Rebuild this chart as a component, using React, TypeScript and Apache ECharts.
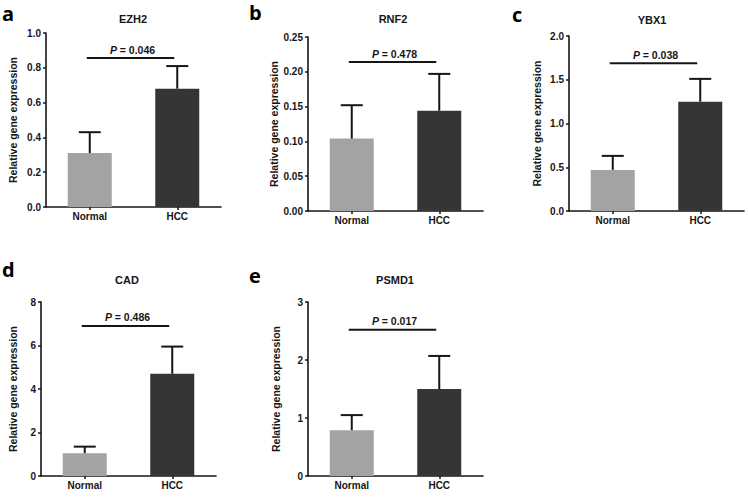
import React, { useEffect, useRef } from "react";
import * as echarts from "echarts";

const panelLetters = ["a", "b", "c", "d", "e"];
const genes = ["EZH2", "RNF2", "YBX1", "CAD", "PSMD1"];
const categories = ["Normal", "HCC"];
const normalMeans = [0.31, 0.104, 0.47, 1.05, 0.79];
const normalErrTop = [0.43, 0.152, 0.63, 1.35, 1.05];
const hccMeans = [0.68, 0.144, 1.25, 4.7, 1.5];
const hccErrTop = [0.81, 0.197, 1.51, 5.95, 2.07];
const pValues = ["0.046", "0.478", "0.038", "0.486", "0.017"];
const pLineY = [0.856, 0.214, 1.69, 6.9, 2.52];
const yMax = [1.0, 0.25, 2.0, 8, 3];
const yInterval = [0.2, 0.05, 0.5, 2, 1];
const yDecimals = [1, 2, 1, 0, 0];

const FONT = "'Liberation Sans', Arial, sans-serif";
const INK = "#161616";
const NORMAL_COLOR = "#a3a3a3";
const HCC_COLOR = "#353535";

export default function App() {
  const ref = useRef<HTMLDivElement>(null);

  useEffect(() => {
    const chart = echarts.init(ref.current!, null, { renderer: "svg" });

    const grids = [
      { left: 46, top: 33, width: 175, height: 174 },
      { left: 308, top: 37, width: 175, height: 174 },
      { left: 569, top: 36, width: 175, height: 175 },
      { left: 41, top: 302, width: 175, height: 174 },
      { left: 308, top: 302, width: 175, height: 174 },
    ];
    const nameGaps = [28, 26, 27, 23, 27];
    const titlePos = [
      [133, 19],
      [393, 19],
      [652, 20],
      [127, 280],
      [395, 280],
    ];
    const letterPos = [
      [2, 13],
      [249, 12],
      [512, 14],
      [2, 269],
      [249, 275],
    ];

    const xAxes = grids.map((_, i) => ({
      type: "category",
      gridIndex: i,
      data: categories,
      axisLine: { show: true, lineStyle: { color: INK, width: 1.6 } },
      axisTick: { show: true, alignWithLabel: true, length: 3, lineStyle: { color: INK, width: 1.5 } },
      axisLabel: { fontSize: 10, fontWeight: "bold", color: INK, fontFamily: FONT, margin: 4 },
      splitLine: { show: false },
    }));

    const yAxes = grids.map((_, i) => ({
      type: "value",
      gridIndex: i,
      min: 0,
      max: yMax[i],
      interval: yInterval[i],
      axisLine: { show: true, lineStyle: { color: INK, width: 1.6 } },
      axisTick: { show: true, length: 3, lineStyle: { color: INK, width: 1.5 } },
      splitLine: { show: false },
      axisLabel: {
        fontSize: 10,
        fontWeight: "bold",
        color: INK,
        fontFamily: FONT,
        margin: 5,
        formatter: (v: number) => v.toFixed(yDecimals[i]),
      },
      name: "Relative gene expression",
      nameLocation: "middle",
      nameGap: nameGaps[i],
      nameTextStyle: { fontSize: 10.5, fontWeight: "bold", color: INK, fontFamily: FONT },
    }));

    const series: any[] = [];
    grids.forEach((_, i) => {
      series.push({
        type: "bar",
        xAxisIndex: i,
        yAxisIndex: i,
        barWidth: 44,
        z: 2,
        data: [
          { value: normalMeans[i], itemStyle: { color: NORMAL_COLOR } },
          { value: hccMeans[i], itemStyle: { color: HCC_COLOR } },
        ],
      });
      series.push({
        type: "custom",
        xAxisIndex: i,
        yAxisIndex: i,
        z: 3,
        data: [
          [0, normalMeans[i], normalErrTop[i]],
          [1, hccMeans[i], hccErrTop[i]],
        ],
        renderItem: (params: any, api: any) => {
          const x = api.value(0);
          const base = api.coord([x, api.value(1)]);
          const top = api.coord([x, api.value(2)]);
          return {
            type: "group",
            children: [
              {
                type: "line",
                shape: { x1: base[0], y1: base[1], x2: top[0], y2: top[1] },
                style: { stroke: INK, lineWidth: 2 },
              },
              {
                type: "line",
                shape: { x1: top[0] - 11, y1: top[1], x2: top[0] + 11, y2: top[1] },
                style: { stroke: INK, lineWidth: 2 },
              },
            ],
          };
        },
      });
      series.push({
        type: "custom",
        xAxisIndex: i,
        yAxisIndex: i,
        z: 4,
        data: [[0, pLineY[i]]],
        renderItem: (params: any, api: any) => {
          const y = api.value(1);
          const p0 = api.coord([0, y]);
          const p1 = api.coord([1, y]);
          return {
            type: "group",
            children: [
              {
                type: "line",
                shape: { x1: p0[0] - 3, y1: p0[1], x2: p1[0] - 3, y2: p1[1] },
                style: { stroke: INK, lineWidth: 2 },
              },
              {
                type: "text",
                x: (p0[0] + p1[0]) / 2 - 1,
                y: p0[1] - 3,
                style: {
                  text: "{i|P} = " + pValues[i],
                  rich: {
                    i: { fontStyle: "italic", fontWeight: "bold", fontSize: 10.5, fontFamily: FONT, fill: INK },
                  },
                  fontSize: 10.5,
                  fontWeight: "bold",
                  fontFamily: FONT,
                  fill: INK,
                  align: "center",
                  verticalAlign: "bottom",
                },
              },
            ],
          };
        },
      });
    });

    const graphics: any[] = [];
    genes.forEach((g, i) => {
      graphics.push({
        type: "text",
        x: titlePos[i][0],
        y: titlePos[i][1],
        style: {
          text: g,
          fontSize: 11,
          fontWeight: "bold",
          fontFamily: FONT,
          fill: INK,
          align: "center",
          verticalAlign: "middle",
        },
      });
      graphics.push({
        type: "text",
        x: letterPos[i][0],
        y: letterPos[i][1],
        style: {
          text: panelLetters[i],
          fontSize: 20,
          fontWeight: "bold",
          fontFamily: "'Open Sans', 'Liberation Sans', sans-serif",
          fill: "#000",
          align: "left",
          verticalAlign: "middle",
        },
      });
    });

    chart.setOption({
      animation: false,
      backgroundColor: "#ffffff",
      grid: grids,
      xAxis: xAxes,
      yAxis: yAxes,
      series,
      graphic: graphics,
    });

    return () => chart.dispose();
  }, []);

  return (
    <div
      ref={ref}
      style={{ position: "fixed", left: 0, top: 0, width: 748, height: 497, background: "#fff" }}
    />
  );
}
